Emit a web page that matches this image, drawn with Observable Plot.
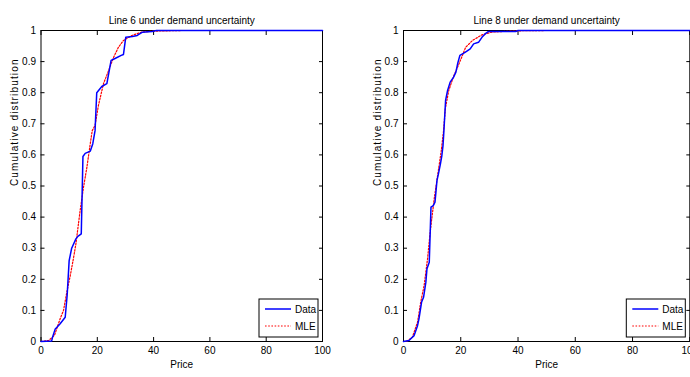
<!DOCTYPE html>
<html>
<head>
<meta charset="utf-8">
<script src="https://cdn.jsdelivr.net/npm/d3@7"></script>
<script src="https://cdn.jsdelivr.net/npm/@observablehq/plot@0.6"></script>
<style>
  html, body { margin: 0; padding: 0; background: #fff; }
  #wrap { position: relative; width: 690px; height: 377px; overflow: hidden; }
  .panel { position: absolute; top: 0; }
  .ylab text { letter-spacing: 1.15px; }
  svg { font-family: "Liberation Sans Narrow", "Liberation Sans", Arial, sans-serif; }
</style>
</head>
<body>
<div id="wrap"></div>
<script>
// ---- tick labels ----
const priceTicks = [0, 20, 40, 60, 80, 100];
const cdfTicks = [0, 0.1, 0.2, 0.3, 0.4, 0.5, 0.6, 0.7, 0.8, 0.9, 1];
const cdfTickLabels = ["0", "0.1", "0.2", "0.3", "0.4", "0.5", "0.6", "0.7", "0.8", "0.9", "1"];

// ---- series labels ----
const seriesNames = ["Data", "MLE"];
const titles = ["Line 6 under demand uncertainty", "Line 8 under demand uncertainty"];

// ---- Line 6: empirical CDF (Data) ----
const line6DataX = [0, 3.8, 4.1, 5.0, 6.8, 8.6, 9.3, 10.0, 10.9, 12.4, 13.1, 14.3, 14.9, 15.7, 17.5, 18.4, 19.2, 19.8, 21.6, 23.4, 24.9, 26.3, 28.5, 29.3, 30.1, 32.5, 34.2, 35.9, 39.5, 41, 100];
const line6DataY = [0, 0.002, 0.014, 0.039, 0.057, 0.078, 0.15, 0.26, 0.30, 0.33, 0.338, 0.346, 0.595, 0.605, 0.612, 0.636, 0.678, 0.80, 0.82, 0.829, 0.904, 0.91, 0.92, 0.923, 0.978, 0.981, 0.984, 0.994, 0.997, 1, 1];
// ---- Line 6: fitted CDF (MLE) ----
const line6MleX = [0, 2.7, 4.8, 6.8, 8.0, 9.2, 10.4, 11.5, 12.4, 13.9, 15.1, 16.3, 17.5, 18.2, 19.2, 20.4, 22.2, 24.0, 25.8, 27.5, 29.3, 32.3, 35.8, 40, 50, 100];
const line6MleY = [0, 0.003, 0.02, 0.073, 0.10, 0.16, 0.212, 0.266, 0.314, 0.421, 0.496, 0.56, 0.636, 0.678, 0.695, 0.759, 0.829, 0.871, 0.914, 0.946, 0.968, 0.984, 0.995, 0.998, 1, 1];

// ---- Line 8: empirical CDF (Data) ----
const line8DataX = [0, 1.9, 3.7, 4.9, 5.4, 6.3, 7.0, 7.8, 8.2, 9.0, 9.6, 10.4, 11.0, 11.7, 12.2, 12.9, 13.4, 13.8, 14.1, 14.7, 15.4, 16.3, 17.5, 18.3, 18.9, 19.7, 21.5, 23.3, 24.5, 26.2, 27.4, 28.5, 29.7, 39.2, 40, 100];
const line8DataY = [0, 0.003, 0.019, 0.051, 0.073, 0.126, 0.142, 0.19, 0.234, 0.255, 0.432, 0.437, 0.448, 0.518, 0.539, 0.571, 0.598, 0.63, 0.675, 0.775, 0.807, 0.834, 0.85, 0.866, 0.893, 0.92, 0.93, 0.941, 0.957, 0.962, 0.978, 0.989, 0.997, 0.997, 1, 1];
// ---- Line 8: fitted CDF (MLE) ----
const line8MleX = [0, 1.2, 3.1, 4.9, 6.0, 7.2, 8.4, 9.2, 9.8, 10.8, 12.0, 13.2, 14.0, 14.6, 15.8, 17.6, 19.4, 21.7, 24.1, 27.4, 30.9, 40, 50, 100];
const line8MleY = [0, 0.001, 0.014, 0.062, 0.126, 0.18, 0.266, 0.341, 0.389, 0.464, 0.539, 0.614, 0.678, 0.748, 0.807, 0.855, 0.893, 0.946, 0.968, 0.986, 0.995, 0.999, 1, 1];

const blue = "#0000ff";
const red = "#ff0000";

function panel({title, dataX, dataY, mleX, mleY, marginLeft, marginRight}) {
  const data = dataX.map((x, i) => ({x, y: dataY[i]}));
  const mle = mleX.map((x, i) => ({x, y: mleY[i]}));
  const W = 345, H = 377, mt = 30, mb = 36;
  const plot = Plot.plot({
    width: W, height: H,
    marginTop: mt, marginBottom: mb, marginLeft, marginRight,
    x: {domain: [0, 100]},
    y: {domain: [0, 1]},
    style: {fontSize: "10px", overflow: "visible", background: "transparent", color: "black"},
    marks: [
      // inward ticks on all four sides
      Plot.axisX(priceTicks, {anchor: "bottom", tickSize: -4, tickFormat: () => "", label: null}),
      Plot.axisX(priceTicks, {anchor: "top", tickSize: -4, tickFormat: () => "", label: null}),
      Plot.axisY(cdfTicks, {anchor: "left", tickSize: -4, tickFormat: () => "", label: null}),
      Plot.axisY(cdfTicks, {anchor: "right", tickSize: -4, tickFormat: () => "", label: null}),
      // tick labels
      Plot.axisX(priceTicks, {anchor: "bottom", tickSize: 0, tickPadding: 5, label: null, fontSize: 10}),
      Plot.axisY(cdfTicks, {anchor: "left", tickSize: 0, tickPadding: 5, label: null, fontSize: 10,
        tickFormat: (d) => cdfTickLabels[cdfTicks.indexOf(d)]}),
      Plot.frame({stroke: "black", strokeWidth: 1}),
      Plot.line(mle, {x: "x", y: "y", stroke: red, strokeWidth: 1.2, strokeDasharray: "1.6,1.6"}),
      Plot.line(data, {x: "x", y: "y", stroke: blue, strokeWidth: 1.5}),
      // title and axis labels
      Plot.text([title], {frameAnchor: "top", dy: -14, text: d => d, fontSize: 10, fill: "black"}),
      Plot.text(["Price"], {frameAnchor: "bottom", dy: 26, text: d => d, fontSize: 10, fill: "black"}),
      Plot.text(["Cumulative distribution"], {frameAnchor: "left", dx: -26, rotate: -90, text: d => d, fontSize: 10, fill: "black", className: "ylab"})
    ]
  });
  // legend (box in lower-right corner of the axes)
  const svg = d3.select(plot);
  const fr = W - marginRight, fb = H - mb;
  const bw = 59, bh = 38, gap = 4;
  const g = svg.append("g").attr("transform", `translate(${fr - gap - bw},${fb - gap - bh})`)
    .attr("text-anchor", "start");
  g.append("rect").attr("width", bw).attr("height", bh).attr("fill", "white").attr("stroke", "black").attr("stroke-width", 1);
  const items = [{name: seriesNames[0], stroke: blue, dash: null, w: 1.5, y: 10},
                 {name: seriesNames[1], stroke: red, dash: "1.6,1.6", w: 1.2, y: 27}];
  for (const it of items) {
    g.append("line").attr("x1", 6).attr("x2", 32).attr("y1", it.y).attr("y2", it.y)
      .attr("stroke", it.stroke).attr("stroke-width", it.w).attr("stroke-dasharray", it.dash);
    g.append("text").attr("x", 36).attr("y", it.y).attr("dy", "0.35em").attr("font-size", 10)
      .attr("text-anchor", "start").attr("fill", "black").text(it.name);
  }
  return plot;
}

const wrap = document.getElementById("wrap");
const p1 = panel({title: titles[0], dataX: line6DataX, dataY: line6DataY, mleX: line6MleX, mleY: line6MleY, marginLeft: 40.5, marginRight: 23});
p1.classList.add("panel"); p1.style.left = "0px";
wrap.appendChild(p1);
const p2 = panel({title: titles[1], dataX: line8DataX, dataY: line8DataY, mleX: line8MleX, mleY: line8MleY, marginLeft: 58, marginRight: 0.7});
p2.classList.add("panel"); p2.style.left = "345px";
wrap.appendChild(p2);
</script>
</body>
</html>
